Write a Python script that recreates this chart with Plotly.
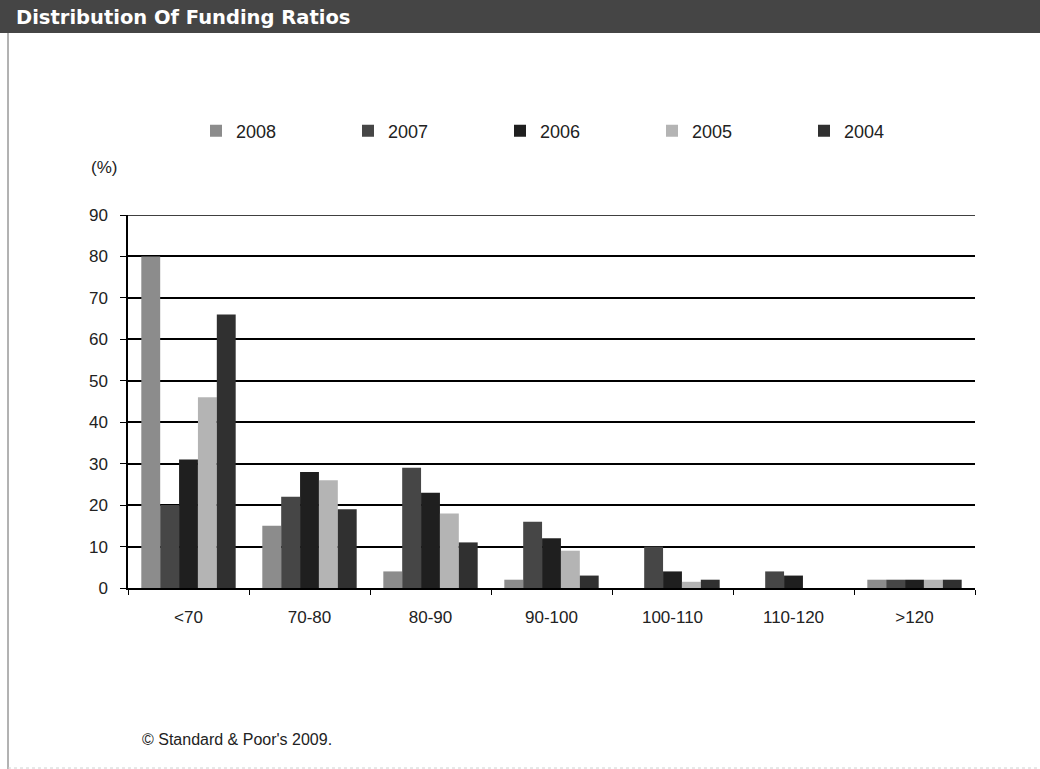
import plotly.graph_objects as go

# Funding-ratio buckets (%) and share of plans in each bucket, by year
categories = ["<70", "70-80", "80-90", "90-100", "100-110", "110-120", ">120"]
years = ["2008", "2007", "2006", "2005", "2004"]
share_2008 = [80, 15, 4, 2, 0, 0, 2]
share_2007 = [20, 22, 29, 16, 10, 4, 2]
share_2006 = [31, 28, 23, 12, 4, 3, 2]
share_2005 = [46, 26, 18, 9, 1.5, 0, 2]
share_2004 = [66, 19, 11, 3, 2, 0, 2]
y_ticks = [0, 10, 20, 30, 40, 50, 60, 70, 80, 90]

series = [share_2008, share_2007, share_2006, share_2005, share_2004]
colors = ["#8c8c8c", "#464646", "#1f1f1f", "#b4b4b4", "#303030"]

W, H = 1040, 769
L, R, T, B = 128, 65, 215, 181
PW, PH = W - L - R, H - T - B


def px(x):
    return (x - L) / PW


def py(y):
    return (H - B - y) / PH


fig = go.Figure()
for name, vals, col in zip(years, series, colors):
    fig.add_trace(go.Bar(
        x=categories, y=vals, name=name,
        marker=dict(color=col, line=dict(width=0)),
    ))

tick_font = dict(family="Liberation Sans, Arial, sans-serif", size=17, color="#222222")

fig.update_layout(
    width=W, height=H, autosize=False,
    margin=dict(l=L, r=R, t=T, b=B, pad=0),
    paper_bgcolor="white", plot_bgcolor="white",
    barmode="group", bargap=0.22, bargroupgap=0,
    font=tick_font,
    showlegend=True,
    legend=dict(
        orientation="h", x=px(196), y=py(131), xanchor="left", yanchor="middle",
        font=dict(family="Liberation Sans, Arial, sans-serif", size=18, color="#222222"),
        entrywidth=107, entrywidthmode="pixels", itemwidth=30,
        bgcolor="rgba(0,0,0,0)", traceorder="normal",
    ),
    xaxis=dict(
        type="category", showline=True, linecolor="black", linewidth=1.5,
        ticks="outside", ticklen=5, tickcolor="black", tickwidth=1,
        tickson="boundaries", showgrid=False, ticklabelstandoff=13,
        tickfont=tick_font, fixedrange=True,
    ),
    yaxis=dict(
        range=[0, 90], tickvals=y_ticks, showline=True, linecolor="black",
        linewidth=1.5, ticks="outside", ticklen=6, tickcolor="black",
        showgrid=True, gridcolor="black", gridwidth=1.5, zeroline=False,
        ticklabelstandoff=9, tickfont=tick_font, fixedrange=True,
    ),
)

shapes = [
    # top gridline at the upper end of the value axis
    dict(type="line", xref="paper", yref="y", x0=0, x1=1, y0=90, y1=90,
         line=dict(color="black", width=1.5)),
    # header band
    dict(type="rect", xref="paper", yref="paper",
         x0=px(0), x1=px(W), y0=py(33), y1=py(0),
         fillcolor="#454545", line=dict(width=0), layer="below"),
    # left frame edge
    dict(type="line", xref="paper", yref="paper",
         x0=px(8), x1=px(8), y0=py(H), y1=py(33),
         line=dict(color="#666666", width=1)),
    # bottom frame edge
    dict(type="line", xref="paper", yref="paper",
         x0=px(8), x1=px(W), y0=py(H - 1), y1=py(H - 1),
         line=dict(color="#d0d0d0", width=1, dash="dot")),
]
fig.update_layout(shapes=shapes)

fig.add_annotation(
    text="<b>Distribution Of Funding Ratios</b>", xref="paper", yref="paper",
    x=px(14), y=py(17), xanchor="left", yanchor="middle", showarrow=False,
    font=dict(family="DejaVu Sans, sans-serif", size=19.5, color="white"),
)
fig.add_annotation(
    text="(%)", xref="paper", yref="paper",
    x=px(89), y=py(168), xanchor="left", yanchor="middle", showarrow=False,
    font=tick_font,
)
fig.add_annotation(
    text="© Standard & Poor's 2009.", xref="paper", yref="paper",
    x=px(140), y=py(739), xanchor="left", yanchor="middle", showarrow=False,
    font=dict(family="Liberation Sans, Arial, sans-serif", size=16, color="#222222"),
)

fig.write_html("out.html")
